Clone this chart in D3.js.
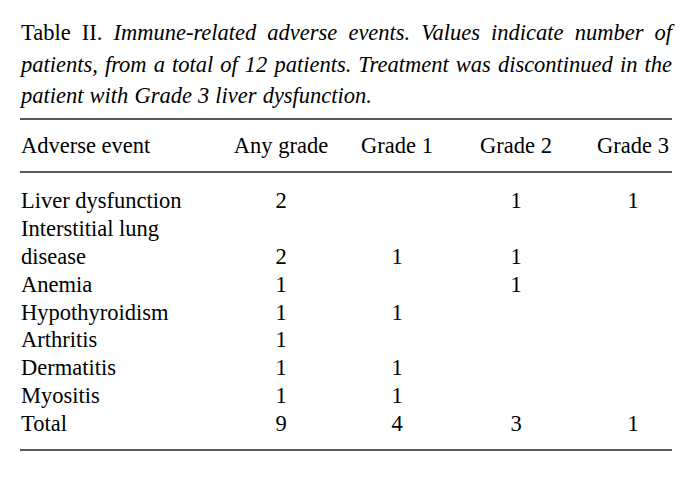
<!DOCTYPE html>
<html>
<head>
<meta charset="utf-8">
<script src="https://cdn.jsdelivr.net/npm/d3@7"></script>
<style>
  html, body { margin: 0; padding: 0; background: #fff; }
  svg text { font-family: "Liberation Serif", "Times New Roman", serif; fill: #000; }
</style>
</head>
<body>
<div id="chart"></div>
<script>
// caption, split into lines (first two are justified)
var captionLines = [
  [["Table", false], ["II.", false], ["Immune-related", true], ["adverse", true], ["events.", true], ["Values", true], ["indicate", true], ["number", true], ["of", true]],
  [["patients,", true], ["from", true], ["a", true], ["total", true], ["of", true], ["12", true], ["patients.", true], ["Treatment", true], ["was", true], ["discontinued", true], ["in", true], ["the", true]],
  [["patient", true], ["with", true], ["Grade", true], ["3", true], ["liver", true], ["dysfunction.", true]]
]

var columns = ["Adverse event", "Any grade", "Grade 1", "Grade 2", "Grade 3"]
var events = [["Liver dysfunction"], ["Interstitial lung", "disease"], ["Anemia"], ["Hypothyroidism"], ["Arthritis"], ["Dermatitis"], ["Myositis"], ["Total"]]
var anyGrade = [2, 2, 1, 1, 1, 1, 1, 9]
var grade1   = [null, 1, null, 1, null, 1, 1, 4]
var grade2   = [1, 1, 1, null, null, null, null, 3]
var grade3   = [1, null, null, null, null, null, null, 1]

var width = 696, height = 478
var left = 21, right = 672
var fs = 22.5

var svg = d3.select("#chart").append("svg")
  .attr("width", width)
  .attr("height", height)

// caption
var capY = d3.scaleLinear().domain([0, 2]).range([40, 103])
captionLines.forEach(function(line, li){
  var g = svg.append("g")
  var words = g.selectAll("text").data(line).enter().append("text")
    .attr("y", capY(li))
    .attr("font-size", fs)
    .attr("font-style", function(d){ return d[1] ? "italic" : "normal" })
    .text(function(d){ return d[0] })
  var widths = []
  words.each(function(){ widths.push(this.getComputedTextLength()) })
  var sum = d3.sum(widths)
  var gap = li < 2 ? (right - left - sum) / (line.length - 1) : fs * 0.27
  var x = left
  words.attr("x", function(d, i){
    var cur = x
    x += widths[i] + gap
    return cur
  })
})

// rules
var rules = [119, 172, 450]
svg.selectAll(".rule").data(rules).enter().append("line")
  .attr("class", "rule")
  .attr("x1", left - 1).attr("x2", right)
  .attr("y1", function(d){ return d }).attr("y2", function(d){ return d })
  .attr("stroke", "#222").attr("stroke-width", 1.5)

// column positions
var colX = d3.scaleOrdinal().domain(columns).range([left, 281, 397, 516, 633])

svg.selectAll(".head").data(columns).enter().append("text")
  .attr("class", "head")
  .attr("x", function(d){ return colX(d) })
  .attr("y", 153)
  .attr("font-size", fs)
  .attr("text-anchor", function(d, i){ return i == 0 ? "start" : "middle" })
  .text(function(d){ return d })

// body rows, one line index per printed line
var lineY = d3.scaleLinear().domain([0, 8]).range([208, 431])
var lineIdx = 0
var rowLine = events.map(function(lines){
  var start = lineIdx
  lineIdx += lines.length
  return start
})

events.forEach(function(lines, r){
  lines.forEach(function(t, k){
    svg.append("text")
      .attr("x", left)
      .attr("y", lineY(rowLine[r] + k))
      .attr("font-size", fs)
      .text(t)
  })
  var last = rowLine[r] + lines.length - 1
  var vals = [anyGrade[r], grade1[r], grade2[r], grade3[r]]
  vals.forEach(function(v, c){
    if(v == null) return
    svg.append("text")
      .attr("x", colX(columns[c + 1]))
      .attr("y", lineY(last))
      .attr("font-size", fs)
      .attr("text-anchor", "middle")
      .text(v)
  })
})
</script>
</body>
</html>
